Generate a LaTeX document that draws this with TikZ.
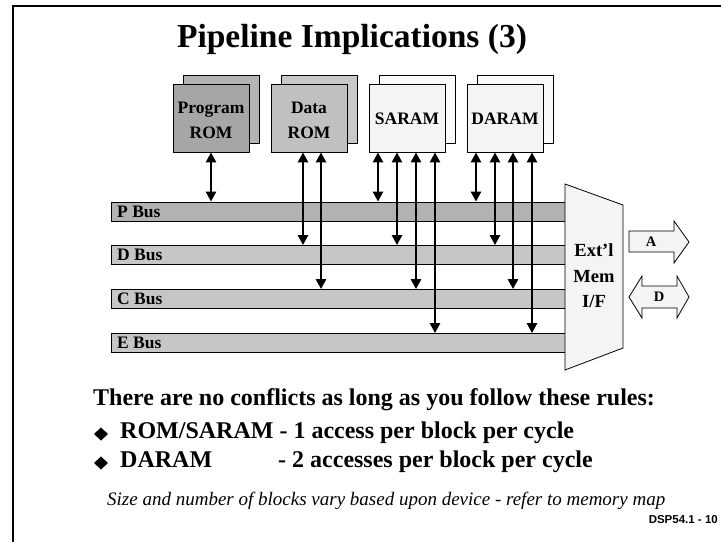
\documentclass[tikz,border=0pt]{standalone}
\usepackage{fontspec}
\setmainfont{Liberation Serif}
\setsansfont{Liberation Sans}
\usetikzlibrary{arrows.meta}

\definecolor{progfront}{HTML}{A6A6A6}
\definecolor{progback}{HTML}{B4B4B4}
\definecolor{dromfront}{HTML}{C0C0C0}
\definecolor{dromback}{HTML}{C8C8C8}
\definecolor{ramfront}{HTML}{F4F4F4}
\definecolor{ramback}{HTML}{FAFAFA}
\definecolor{pbusfill}{HTML}{B2B2B2}
\definecolor{busfill}{HTML}{C6C6C6}
\definecolor{panelfill}{HTML}{F4F4F4}

\begin{document}
\begin{tikzpicture}[x=1pt,y=-1pt,
  frontbox/.style={draw, line width=0.8pt, minimum width=76pt, minimum height=68pt,
    inner sep=0pt, align=center, font=\bfseries\fontsize{17.5}{25}\selectfont},
  backbox/.style={draw, line width=0.8pt, minimum width=76pt, minimum height=68pt, inner sep=0pt},
  bus/.style={draw, line width=0.8pt, anchor=west, minimum width=454pt,
    minimum height=19pt, inner sep=0pt},
  buslabel/.style={anchor=west, inner sep=6pt, font=\bfseries\fontsize{17.5}{20}\selectfont},
  link/.style={line width=2.5pt, {Triangle[length=10pt,width=10pt]}-{Triangle[length=10pt,width=10pt]}},
  outline/.style={draw, line width=0.8pt, fill=panelfill},
  rulefont/.style={anchor=base west, inner sep=0pt, font=\bfseries\fontsize{24}{28}\selectfont},
]
\useasboundingbox (0,0) rectangle (721,542);
\fill[white] (0,0) rectangle (721,542);

% slide frame
\draw[line width=2.5pt] (13,542) -- (13,6) -- (721,6);

% title
\node[anchor=base, inner sep=0pt, font=\bfseries\fontsize{33.5}{40}\selectfont] (title)
  at (352,47) {Pipeline Implications (3)};

% memory blocks (stacked pages)
\node[backbox, fill=progback] (progB) at (221,109) {};
\node[frontbox, fill=progfront] (prog) at (211,118) {};
\node[backbox, fill=dromback] (dromB) at (319,109) {};
\node[frontbox, fill=dromfront] (drom) at (309,118) {};
\node[backbox, fill=ramback] (sramB) at (417,109) {};
\node[frontbox, fill=ramfront] (sram) at (407,118) {};
\node[backbox, fill=ramback] (dramB) at (515,109) {};
\node[frontbox, fill=ramfront] (dram) at (505,118) {};
\node[frontbox, draw=none, minimum size=0pt] (progT) at (211,120) {Program\\ROM};
\node[frontbox, draw=none, minimum size=0pt] (dromT) at (309,120) {Data\\ROM};
\node[frontbox, draw=none, minimum size=0pt] (sramT) at (407,119) {SARAM};
\node[frontbox, draw=none, minimum size=0pt] (dramT) at (505,119) {DARAM};

% buses
\node[bus, fill=pbusfill, label={[buslabel]west:P Bus}] (pbus) at (111,211.5) {};
\node[bus, fill=busfill, label={[buslabel]west:D Bus}] (dbus) at (111,255) {};
\node[bus, fill=busfill, label={[buslabel]west:C Bus}] (cbus) at (111,299) {};
\node[bus, fill=busfill, label={[buslabel]west:E Bus}] (ebus) at (111,343) {};

% memory-to-bus links
\foreach \x/\src/\dst in {211/prog/pbus, 303/drom/dbus, 321/drom/cbus,
    378/sram/pbus, 397/sram/dbus, 416/sram/cbus, 435/sram/ebus,
    476/dram/pbus, 495/dram/dbus, 513/dram/cbus, 532/dram/ebus}
  \draw[link] (\src.south -| \x,0) -- (\dst.north -| \x,0);

% external memory interface
\draw[outline] (565,184) -- (623,205) -- (623,348) -- (565,370) -- cycle;
\node[align=center, inner sep=0pt, font=\bfseries\fontsize{18.5}{25.5}\selectfont] (extif)
  at (594,276) {Ext’l\\Mem\\I/F};

% address (out) and data (in/out) block arrows
\draw[outline] (629,231) -- (674,231) -- (674,221) -- (689,242) -- (674,263)
  -- (674,252) -- (629,252) -- cycle;
\node[font=\bfseries\fontsize{14.5}{16}\selectfont, inner sep=0pt] (addr) at (651,241.5) {A};
\draw[outline] (629,297) -- (642,276) -- (642,286) -- (677,286) -- (677,276)
  -- (689,297) -- (677,318) -- (677,308) -- (642,308) -- (642,318) -- cycle;
\node[font=\bfseries\fontsize{14.5}{16}\selectfont, inner sep=0pt] (data) at (659,297) {D};

% rules
\node[rulefont] (rules) at (93,405) {There are no conflicts as long as you follow these rules:};
\fill (94,434) -- (101,427.5) -- (108,434) -- (101,440.5) -- cycle;
\node[rulefont] (rule1) at (120,438) {ROM/SARAM - 1 access per block per cycle};
\fill (94,463) -- (101,456.5) -- (108,463) -- (101,469.5) -- cycle;
\node[rulefont] (rule2a) at (120,467) {DARAM};
\node[rulefont] (rule2b) at (278,467) {- 2 accesses per block per cycle};

% footnote and slide number
\node[anchor=base west, inner sep=0pt, font=\itshape\fontsize{19}{22}\selectfont] (note)
  at (107,505) {Size and number of blocks vary based upon device - refer to memory map};
\node[anchor=base east, inner sep=0pt, font=\sffamily\bfseries\fontsize{11.5}{14}\selectfont] (slideno)
  at (718,523) {DSP54.1 - 10};
\end{tikzpicture}
\end{document}
